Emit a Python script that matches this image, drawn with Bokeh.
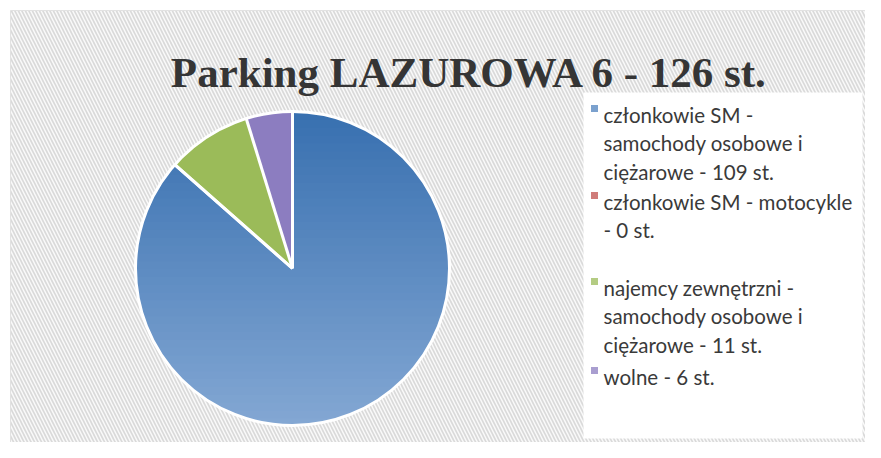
import numpy as np
from bokeh.plotting import figure
from bokeh.models import Range1d
from bokeh.embed import file_html
from bokeh.resources import INLINE
from bokeh.core.properties import value

# ---- data ----
title = "Parking LAZUROWA 6 - 126 st."
categories = [
    "członkowie SM - samochody osobowe i ciężarowe - 109 st.",
    "członkowie SM - motocykle - 0 st.",
    "najemcy zewnętrzni - samochody osobowe i ciężarowe - 11 st.",
    "wolne - 6 st.",
]
legend_lines = [
    ["członkowie SM -", "samochody osobowe i", "ciężarowe - 109 st."],
    ["członkowie SM - motocykle", "- 0 st."],
    ["najemcy zewnętrzni -", "samochody osobowe i", "ciężarowe - 11 st."],
    ["wolne - 6 st."],
]
values = [109, 0, 11, 6]
colors = ["#4F81BD", "#C0504D", "#9BBB59", "#8C7DC0"]

# ---- layout (screenshot pixel coordinates, y measured downward) ----
W, H = 865, 442
def Y(py):
    return 458 - py

p = figure(width=W, height=H, output_backend="svg", toolbar_location=None,
           x_range=Range1d(0, W), y_range=Range1d(458 - H, 458), min_border=0)
p.axis.visible = False
p.grid.visible = False
p.outline_line_color = None
p.background_fill_color = "white"
p.border_fill_color = "white"

# chart area with diagonal hatch
p.quad(left=[10], right=[870], top=[Y(10)], bottom=[Y(449)],
       fill_color="#fafafa", line_color="#e2e2e2", line_width=1,
       hatch_pattern="left_diagonal_line", hatch_color="#dadada",
       hatch_scale=7, hatch_weight=1.7)

# legend box
p.quad(left=[583], right=[862], top=[Y(92)], bottom=[Y(438)],
       fill_color="white", line_color=None)

# title
p.text(x=[469], y=[Y(72)], text=[title], text_font=value("Liberation Serif"),
       text_font_style="bold", text_font_size="43px", text_color="#353535",
       text_align="center", text_baseline="alphabetic")

# ---- pie ----
cx, cy, r = 292, Y(268), 157
total = float(sum(values))
angles = [np.pi / 2]
for v in values:
    angles.append(angles[-1] - v / total * 2 * np.pi)

for i, v in enumerate(values):
    if v <= 0:
        continue
    p.wedge(x=[cx], y=[cy], radius=r, start_angle=[angles[i + 1]],
            end_angle=[angles[i]], fill_color=colors[i], line_color=None)

# vertical gradient on the first (largest) slice
top_rgb = np.array([56, 112, 176])
bot_rgb = np.array([132, 168, 212])
a_end = angles[0] + (total - values[0]) / total * 2 * np.pi  # other slices, CCW from 90deg
cot_end = np.cos(a_end) / np.sin(a_end)
n = 40
edges = np.linspace(cy - r, cy + r, n + 1)
for k in range(n):
    ya, yb = edges[k], edges[k + 1]
    t = 1 - ((ya + yb) / 2 - (cy - r)) / (2 * r)
    rgb = (top_rgb + t * (bot_rgb - top_rgb)).astype(int)
    col = "#%02x%02x%02x" % tuple(rgb)
    ys = np.linspace(ya - 0.6, min(yb + 0.6, cy + r), 7)
    ys = np.clip(ys, cy - r, cy + r)
    h = ys - cy
    half = np.sqrt(np.maximum(r * r - h * h, 0))
    xl, xr = cx - half, cx + half
    if yb <= cy + 0.01:
        p.harea(x1=xl, x2=xr, y=ys, fill_color=col)
    else:
        hh = np.maximum(h, 0)
        p.harea(x1=np.full_like(ys, cx), x2=xr, y=ys, fill_color=col)
        linex = cx + hh * cot_end
        x2 = np.maximum(xl, linex)
        if np.any(x2 > xl + 0.01):
            p.harea(x1=xl, x2=x2, y=ys, fill_color=col)

# white separators and outline
for i, v in enumerate(values):
    a = angles[i]
    p.segment(x0=[cx], y0=[cy], x1=[cx + r * np.cos(a)], y1=[cy + r * np.sin(a)],
              line_color="white", line_width=3)
p.circle(x=[cx], y=[cy], radius=r, fill_color=None, line_color="white", line_width=3)

# ---- legend ----
first_baselines = [114, 201, 287, 376]
line_gap = 28.5
tx, ty, tt = [], [], []
for i, lines in enumerate(legend_lines):
    for j, ln in enumerate(lines):
        tx.append(603)
        ty.append(Y(first_baselines[i] + j * line_gap))
        tt.append(ln)
p.text(x=tx, y=ty, text=tt, text_font=value("Lato"), text_font_size="20.5px",
       text_color="#3a3a3a", text_baseline="alphabetic")
p.scatter(x=[594] * len(values), y=[Y(b - 6) for b in first_baselines],
          marker="square", size=7, fill_color=colors, fill_alpha=0.75, line_color=None)

open("out.html", "w").write(file_html(p, INLINE))
